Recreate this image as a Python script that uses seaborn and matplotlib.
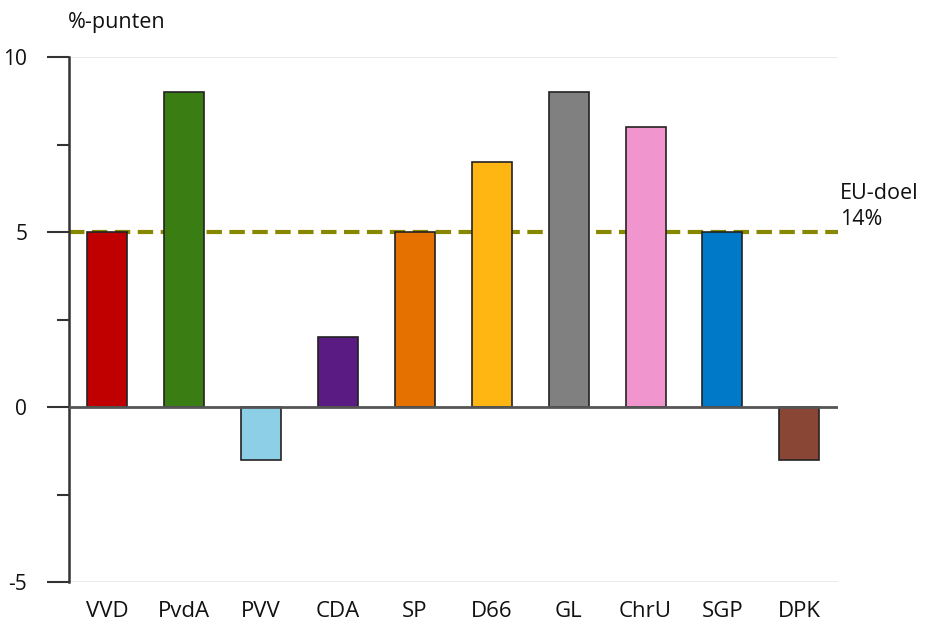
import matplotlib.pyplot as plt
import pandas as pd
import seaborn as sns
from matplotlib.ticker import MultipleLocator

parties = ["VVD", "PvdA", "PVV", "CDA", "SP", "D66", "GL", "ChrU", "SGP", "DPK"]
values = [5, 9, -1.5, 2, 5, 7, 9, 8, 5, -1.5]
colors = ["#c00000", "#3a7d12", "#8ecfe8", "#5a1c82", "#e57200",
          "#ffb612", "#808080", "#f095cd", "#0079c8", "#8a4634"]
eu_target = 5

sns.set_theme(style="white")
plt.rcParams["font.family"] = ["Open Sans", "DejaVu Sans"]
plt.rcParams["text.color"] = "#111111"

df = pd.DataFrame({"partij": parties, "waarde": values})

fig = plt.figure(figsize=(9.34, 6.37), dpi=100)
ax = fig.add_axes([0.0739, 0.0863, 0.823, 0.8242])

sns.barplot(data=df, x="partij", y="waarde", hue="partij", palette=colors,
            legend=False, width=0.52, edgecolor="#222222", linewidth=1.2,
            saturation=1, ax=ax, zorder=3)

ax.set_xlim(-0.5, len(parties) - 0.5)
ax.set_ylim(-5, 10)
ax.hlines([10, -5], -0.5, len(parties) - 0.5, color="#e6e6e6", lw=1.2, zorder=1)
ax.axhline(0, color="#555555", lw=2, zorder=4)
# EU target line sits behind the bars
ax.axhline(eu_target, color="#888800", lw=3, ls=(0, (3.7, 1.8)), zorder=2)

for side in ["top", "right", "bottom"]:
    ax.spines[side].set_visible(False)
ax.spines["left"].set_color("#333333")
ax.spines["left"].set_linewidth(1.8)

ax.yaxis.set_major_locator(MultipleLocator(5))
ax.yaxis.set_minor_locator(MultipleLocator(2.5))
ax.tick_params(axis="y", which="major", left=True, length=16, width=1.5,
               color="#333333", labelsize=15, pad=14, labelcolor="#111111")
ax.tick_params(axis="y", which="minor", left=True, length=9, width=1.5, color="#333333")
ax.tick_params(axis="x", length=0, labelsize=16, pad=14, labelcolor="#111111")
ax.set_yticks([-5, 0, 5, 10])
ax.set_yticklabels(["-5", "0", "5", "10"])
ax.set_xlabel("")
ax.set_ylabel("")

fig.text(0.073, 0.965, "%-punten", fontsize=15.5, va="center", ha="left")
ax.text(1.003, 0.715, "EU-doel\n14%", transform=ax.transAxes, fontsize=15.5,
        va="center", ha="left", linespacing=1.3)

fig.savefig("out.png", dpi=100)
